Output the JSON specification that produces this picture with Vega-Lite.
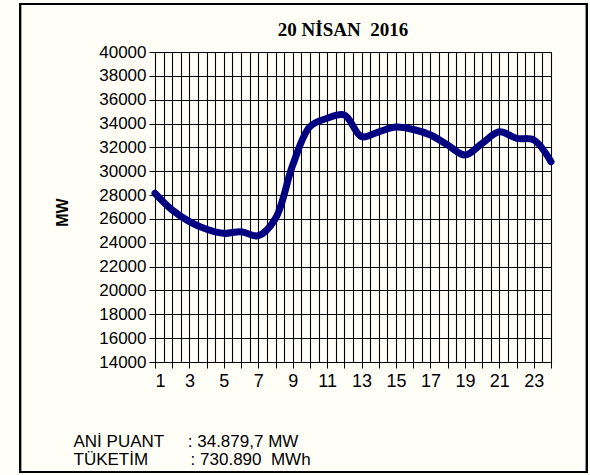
{
  "$schema": "https://vega.github.io/schema/vega-lite/v6.json",
  "autosize": "none",
  "width": 396,
  "height": 310,
  "padding": {"left": 155, "top": 52, "right": 39, "bottom": 113},
  "background": "#fffff8",
  "config": {
    "view": {"stroke": "#000000", "strokeWidth": 1},
    "font": "Liberation Sans"
  },
  "title": {
    "text": "20 NİSAN\u00a0 2016",
    "font": "Liberation Serif",
    "fontSize": 19,
    "fontWeight": "bold",
    "color": "#000000",
    "anchor": "middle",
    "frame": "group",
    "dx": -10,
    "offset": -37
  },
  "data": {
    "values": [
      {"hour": 1, "mw": 28150},
      {"hour": 2, "mw": 26750},
      {"hour": 3, "mw": 25770},
      {"hour": 4, "mw": 25130},
      {"hour": 5, "mw": 24790},
      {"hour": 6, "mw": 24930},
      {"hour": 7, "mw": 24590},
      {"hour": 8, "mw": 26050},
      {"hour": 9, "mw": 30520},
      {"hour": 10, "mw": 33740},
      {"hour": 11, "mw": 34440},
      {"hour": 12, "mw": 34720},
      {"hour": 13, "mw": 32900},
      {"hour": 14, "mw": 33310},
      {"hour": 15, "mw": 33700},
      {"hour": 16, "mw": 33500},
      {"hour": 17, "mw": 33040},
      {"hour": 18, "mw": 32200},
      {"hour": 19, "mw": 31360},
      {"hour": 20, "mw": 32340},
      {"hour": 21, "mw": 33310},
      {"hour": 22, "mw": 32760},
      {"hour": 23, "mw": 32620},
      {"hour": 24, "mw": 30800}
    ]
  },
  "resolve": {"axis": {"x": "independent", "y": "independent"}},
  "layer": [
    {
      "mark": {"type": "rect", "fill": null, "stroke": "#000000", "strokeWidth": 2, "clip": false},
      "encoding": {
        "x": {"datum": -6.84, "type": "quantitative", "scale": {"domain": [1, 24], "nice": false, "zero": false},
          "axis": {"orient": "bottom", "values": [1,1.5,2,2.5,3,3.5,4,4.5,5,5.5,6,6.5,7,7.5,8,8.5,9,9.5,10,10.5,11,11.5,12,12.5,13,13.5,14,14.5,15,15.5,16,16.5,17,17.5,18,18.5,19,19.5,20,20.5,21,21.5,22,22.5,23,23.5,24],
            "grid": true, "gridColor": "#000000", "gridOpacity": 1, "gridWidth": 1.1, "labels": false, "ticks": false, "domain": false, "title": null}},
        "x2": {"datum": 26.09},
        "y": {"datum": 44026, "type": "quantitative", "scale": {"domain": [14000, 40000], "nice": false, "zero": false}, "axis": null},
        "y2": {"datum": 4774}
      }
    },
    {
      "mark": {"type": "line", "color": "#000080", "strokeWidth": 7, "interpolate": "catmull-rom", "strokeCap": "round", "strokeJoin": "round"},
      "encoding": {
        "x": {"field": "hour", "type": "quantitative", "scale": {"domain": [1, 24], "nice": false, "zero": false},
          "axis": {
            "orient": "bottom",
            "values": [1,2,3,4,5,6,7,8,9,10,11,12,13,14,15,16,17,18,19,20,21,22,23,24],
            "labelExpr": "datum.value % 2 == 1 ? datum.label : ''",
            "grid": false,
            "domainColor": "#000000",
            "tickColor": "#000000",
            "tickSize": 6,
            "labelFontSize": 18,
            "labelColor": "#000000",
            "labelPadding": 4,
            "title": ["\u00a0ANİ PUANT\u00a0\u00a0\u00a0\u00a0\u00a0: 34.879,7 MW", "TÜKETİM\u00a0\u00a0\u00a0\u00a0\u00a0\u00a0\u00a0\u00a0\u00a0: 730.890\u00a0\u00a0MWh"],
            "titleFontSize": 17,
            "titleFontWeight": "normal",
            "titleColor": "#000000",
            "titleAlign": "left",
            "titleAnchor": "start",
            "titleBaseline": "alphabetic",
            "titleX": -82,
            "titleY": 84,
            "titleLineHeight": 18
          }},
        "y": {"field": "mw", "type": "quantitative", "scale": {"domain": [14000, 40000], "nice": false, "zero": false},
          "axis": {
            "orient": "left",
            "values": [14000,16000,18000,20000,22000,24000,26000,28000,30000,32000,34000,36000,38000,40000],
            "format": "d",
            "grid": true,
            "gridColor": "#000000",
            "gridOpacity": 1,
            "domainColor": "#000000",
            "tickColor": "#000000",
            "tickSize": 6,
            "labelFontSize": 17,
            "labelColor": "#000000",
            "labelPadding": 3,
            "title": "MW",
            "titleFontSize": 16,
            "titleFontWeight": "bold",
            "titleColor": "#000000",
            "titleAngle": -90,
            "titleAlign": "center",
            "titleBaseline": "middle",
            "titleX": -93,
            "titleY": 160
          }}
      }
    }
  ]
}
